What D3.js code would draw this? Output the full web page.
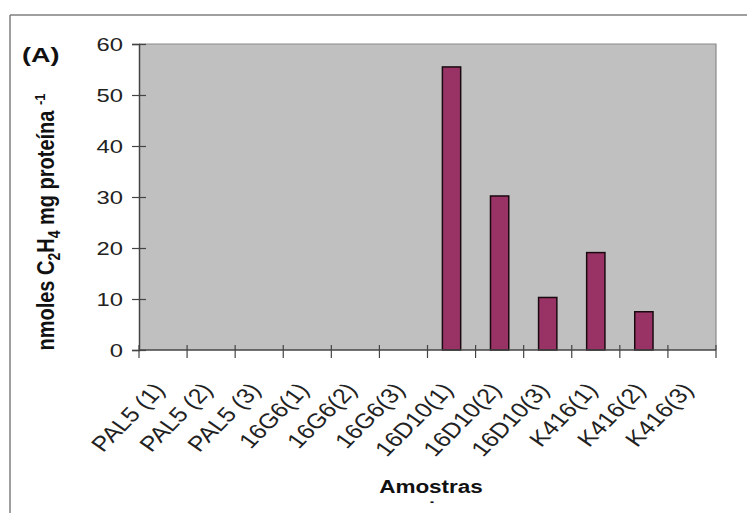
<!DOCTYPE html>
<html>
<head>
<meta charset="utf-8">
<script src="https://cdn.jsdelivr.net/npm/d3@7"></script>
<style>
  body { margin: 0; background: #fff; }
  svg { font-family: "Liberation Sans", Arial, sans-serif; }
</style>
</head>
<body>
<div id="chart"></div>
<script>
const amostras = ["PAL5 (1)", "PAL5 (2)", "PAL5 (3)", "16G6(1)", "16G6(2)", "16G6(3)",
  "16D10(1)", "16D10(2)", "16D10(3)", "K416(1)", "K416(2)", "K416(3)"];
const atividade = [0, 0, 0, 0, 0, 0, 55.5, 30.2, 10.3, 19.1, 7.5, 0];
const yTicks = [0, 10, 20, 30, 40, 50, 60];

const width = 747, height = 513;
const margin = { top: 44, right: 31, bottom: 163, left: 139 };
const innerW = width - margin.left - margin.right;
const innerH = height - margin.top - margin.bottom;
const sx = 1.25; // the source picture is stretched sideways

const svg = d3.select("#chart").append("svg")
  .attr("width", width)
  .attr("height", height);

// outer frame (top and left edges visible)
svg.append("line").attr("x1", 10).attr("x2", width).attr("y1", 15).attr("y2", 15)
  .attr("stroke", "#7f7f7f").attr("stroke-width", 1.5);
svg.append("line").attr("x1", 10).attr("x2", 10).attr("y1", 15).attr("y2", height)
  .attr("stroke", "#7f7f7f").attr("stroke-width", 1.5);

const g = svg.append("g").attr("transform", `translate(${margin.left},${margin.top})`);

const x = d3.scaleBand().domain(amostras).range([0, innerW]).paddingInner(0.62).paddingOuter(0.31);
const y = d3.scaleLinear().domain([0, 60]).range([innerH, 0]);

// plot area
g.append("rect")
  .attr("width", innerW).attr("height", innerH)
  .attr("fill", "#c0c0c0");
g.append("path")
  .attr("d", `M0,0H${innerW}V${innerH}`)
  .attr("fill", "none").attr("stroke", "#8a8a8a").attr("stroke-width", 1.2);

// bars
g.selectAll("rect.bar")
  .data(atividade.map((v, i) => ({ k: amostras[i], v })).filter(d => d.v > 0))
  .join("rect")
  .attr("class", "bar")
  .attr("x", d => x(d.k))
  .attr("y", d => y(d.v))
  .attr("width", x.bandwidth())
  .attr("height", d => innerH - y(d.v))
  .attr("fill", "#993366")
  .attr("stroke", "#1a0a10")
  .attr("stroke-width", 1.5);

// y axis
const yAxis = g.append("g")
  .call(d3.axisLeft(y).tickValues(yTicks).tickSize(7).tickPadding(9));
yAxis.select(".domain").attr("stroke", "#444").attr("stroke-width", 1.5);
yAxis.selectAll(".tick line").attr("x2", 7).attr("x1", -7).attr("stroke", "#444").attr("stroke-width", 1.2);
yAxis.selectAll(".tick text")
  .attr("font-size", 19).attr("fill", "#222").attr("x", 0)
  .attr("transform", `translate(-16,0) scale(${sx},1)`);

// x axis with ticks at category boundaries
const step = innerW / amostras.length;
const xb = g.append("g").attr("transform", `translate(0,${innerH})`);
xb.append("line").attr("x1", 0).attr("x2", innerW)
  .attr("stroke", "#444").attr("stroke-width", 1.5);
xb.selectAll("line.tk")
  .data(d3.range(amostras.length + 1))
  .join("line").attr("class", "tk")
  .attr("x1", i => i * step).attr("x2", i => i * step)
  .attr("y1", -5).attr("y2", 8)
  .attr("stroke", "#444").attr("stroke-width", 1.2);
xb.selectAll("text")
  .data(amostras)
  .join("text")
  .attr("transform", d => `translate(${x(d) + x.bandwidth() / 2 - 4},${36}) scale(1.2,1) rotate(-50)`)
  .attr("text-anchor", "end")
  .attr("font-size", 21)
  .attr("fill", "#222")
  .attr("dy", "0.35em")
  .text(d => d);

// y axis title
const yt = svg.append("text")
  .attr("transform", `translate(54,222) scale(1.15,1) rotate(-90)`)
  .attr("text-anchor", "middle")
  .attr("font-size", 20)
  .attr("font-weight", "bold")
  .attr("fill", "#111");
yt.append("tspan").text("nmoles C");
yt.append("tspan").attr("font-size", 14).attr("dy", 5).text("2");
yt.append("tspan").attr("dy", -5).text("H");
yt.append("tspan").attr("font-size", 14).attr("dy", 5).text("4");
yt.append("tspan").attr("dy", -5).text(" mg proteína ");
yt.append("tspan").attr("font-size", 13).attr("dy", -8).text("-1");

// panel label
svg.append("text")
  .attr("transform", `translate(22,62) scale(${sx + 0.1},1)`)
  .attr("font-size", 20).attr("font-weight", "bold").attr("fill", "#111")
  .text("(A)");

// x axis title
svg.append("text")
  .attr("transform", `translate(431,493) scale(${sx},1)`)
  .attr("text-anchor", "middle")
  .attr("font-size", 18).attr("font-weight", "bold").attr("fill", "#111")
  .text("Amostras");
svg.append("text")
  .attr("transform", `translate(432,506)`)
  .attr("text-anchor", "middle")
  .attr("font-size", 12).attr("font-weight", "bold").attr("fill", "#111")
  .text("-");
</script>
</body>
</html>
